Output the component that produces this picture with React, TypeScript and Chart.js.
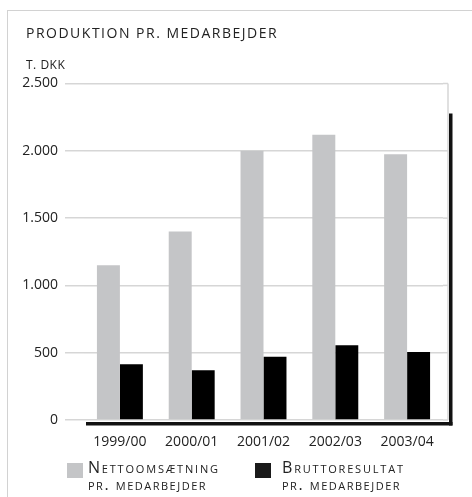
import React, { useEffect, useRef } from "react";
import { Chart, registerables } from "chart.js";

Chart.register(...registerables);

const categories = ["1999/00", "2000/01", "2001/02", "2002/03", "2003/04"];
const nettoomsaetning = [1150, 1400, 2000, 2120, 1975];
const bruttoresultat = [415, 370, 470, 555, 505];
const yTicks = [0, 500, 1000, 1500, 2000, 2500];

const GRAY = "#c4c5c7";
const BLACK = "#000000";
const GRID = "#d6d6d6";
const TEXT = "#222222";
const FONT = "'Open Sans', 'Noto Sans', sans-serif";

const framePlugin = {
  id: "framePlugin",
  beforeDatasetsDraw(chart: any) {
    const { ctx, chartArea } = chart;
    const yScale = chart.scales.y;
    const xr = chartArea.right + 5;
    ctx.save();
    ctx.strokeStyle = GRID;
    ctx.lineWidth = 1.5;
    yScale.ticks.forEach((t: any) => {
      const py = yScale.getPixelForValue(t.value);
      ctx.beginPath();
      ctx.moveTo(chartArea.right, py);
      ctx.lineTo(xr, py);
      ctx.stroke();
    });
    ctx.beginPath();
    ctx.moveTo(xr, chartArea.top);
    ctx.lineTo(xr, chartArea.bottom);
    ctx.stroke();
    ctx.restore();
  },
  afterDraw(chart: any) {
    const { ctx, chartArea } = chart;
    const xr = chartArea.right + 5;
    ctx.save();
    ctx.fillStyle = "#111111";
    ctx.fillRect(xr + 1, chartArea.top + 30, 3.5, chartArea.bottom - chartArea.top - 30 + 5.5);
    ctx.fillRect(chartArea.left + 2, chartArea.bottom + 2, xr + 4.5 - (chartArea.left + 2), 3.5);
    ctx.restore();
  },
};

export default function App() {
  const canvasRef = useRef<HTMLCanvasElement | null>(null);

  useEffect(() => {
    if (!canvasRef.current) return;
    const chart = new Chart(canvasRef.current, {
      type: "bar",
      data: {
        labels: categories,
        datasets: [
          {
            label: "Nettoomsætning pr. medarbejder",
            data: nettoomsaetning,
            backgroundColor: GRAY,
            borderWidth: 0,
            categoryPercentage: 0.64,
            barPercentage: 1,
          },
          {
            label: "Bruttoresultat pr. medarbejder",
            data: bruttoresultat,
            backgroundColor: BLACK,
            borderWidth: 0,
            categoryPercentage: 0.64,
            barPercentage: 1,
          },
        ],
      },
      options: {
        animation: false,
        responsive: false,
        devicePixelRatio: 1,
        layout: { padding: { top: 83.5, right: 29, bottom: 37, left: 0 } },
        plugins: {
          legend: { display: false },
          tooltip: { enabled: false },
          title: { display: false },
        },
        scales: {
          x: {
            grid: { display: false, drawTicks: false },
            border: { display: false },
            ticks: {
              color: TEXT,
              font: { family: FONT, size: 14 },
              padding: 14,
            },
            afterFit: (scale: any) => {
              scale.height = 40;
            },
          },
          y: {
            min: 0,
            max: 2500,
            border: { display: false },
            grid: {
              color: GRID,
              lineWidth: 1.5,
              drawTicks: true,
              tickLength: 19,
            },
            afterBuildTicks: (scale: any) => {
              scale.ticks = yTicks.map((v) => ({ value: v }));
            },
            ticks: {
              color: TEXT,
              font: { family: FONT, size: 14 },
              padding: 7,
              callback: (v: any) => Number(v).toLocaleString("da-DK"),
            },
            afterFit: (scale: any) => {
              scale.width = 84;
            },
          },
        },
      },
      plugins: [framePlugin],
    });
    return () => chart.destroy();
  }, []);

  return (
    <div
      style={{
        position: "fixed",
        left: 0,
        top: 0,
        width: 472,
        height: 497,
        overflow: "hidden",
        background: "#ffffff",
        fontFamily: FONT,
        color: TEXT,
      }}
    >
      <div
        style={{
          position: "absolute",
          left: 7,
          top: 9.5,
          width: 470,
          height: 490,
          borderTop: "1.5px solid #d2d2d2",
          borderLeft: "1.5px solid #d2d2d2",
        }}
      />
      <canvas
        ref={canvasRef}
        width={472}
        height={497}
        style={{ position: "absolute", left: 0, top: 0, width: 472, height: 497 }}
      />
      <div
        style={{
          position: "absolute",
          left: 26,
          top: 25.9,
          fontSize: 14,
          lineHeight: "14px",
          letterSpacing: "1.5px",
          whiteSpace: "nowrap",
        }}
      >
        PRODUKTION PR. MEDARBEJDER
      </div>
      <div
        style={{
          position: "absolute",
          left: 26,
          top: 59.3,
          fontSize: 12,
          lineHeight: "12px",
          letterSpacing: "0.5px",
          whiteSpace: "nowrap",
        }}
      >
        T. DKK
      </div>
      <div style={{ position: "absolute", left: 67, top: 462.5, width: 16, height: 15, background: GRAY }} />
      <div
        style={{
          position: "absolute",
          left: 88,
          top: 459.3,
          fontSize: 16,
          lineHeight: "17px",
          fontVariant: "small-caps",
          letterSpacing: "1.8px",
          whiteSpace: "nowrap",
        }}
      >
        Nettoomsætning
        <br />
        <span style={{ letterSpacing: "1.5px" }}>pr. medarbejder</span>
      </div>
      <div style={{ position: "absolute", left: 255, top: 462.5, width: 16, height: 15, background: "#1a1a1a" }} />
      <div
        style={{
          position: "absolute",
          left: 282,
          top: 459.3,
          fontSize: 16,
          lineHeight: "17px",
          fontVariant: "small-caps",
          letterSpacing: "1.8px",
          whiteSpace: "nowrap",
        }}
      >
        Bruttoresultat
        <br />
        <span style={{ letterSpacing: "1.5px" }}>pr. medarbejder</span>
      </div>
    </div>
  );
}
